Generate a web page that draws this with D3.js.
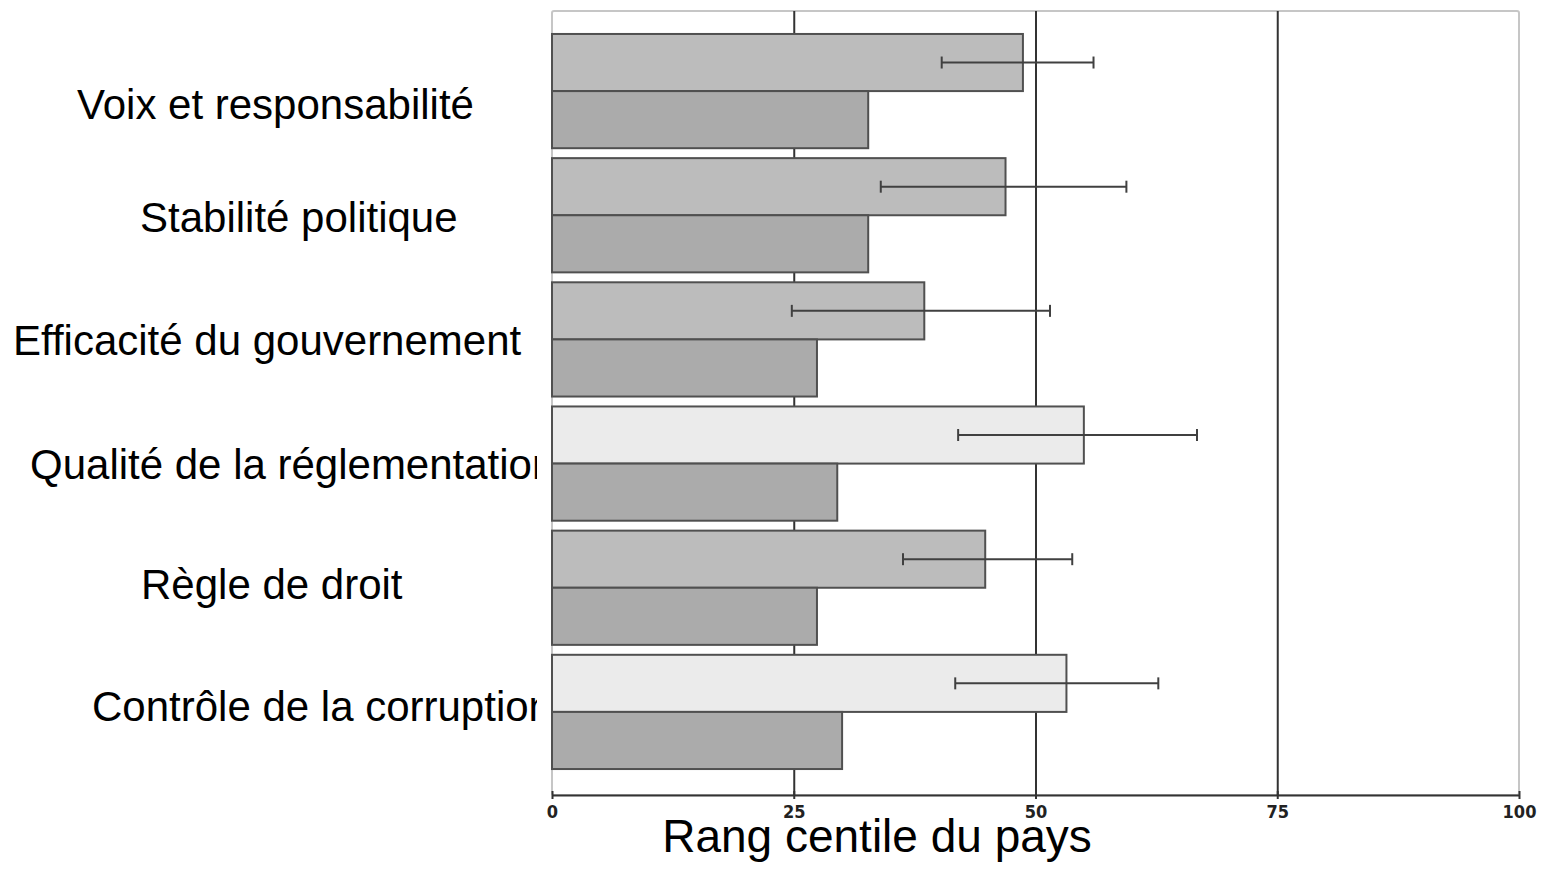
<!DOCTYPE html>
<html>
<head>
<meta charset="utf-8">
<script src="https://cdn.jsdelivr.net/npm/d3@7"></script>
<style>
  body { margin: 0; background: #fff; }
  svg { display: block; }
  .axis path, .axis line { stroke: #333; }
  .axis text { font-family: "Liberation Sans Narrow", "DejaVu Sans Condensed", sans-serif; font-weight: bold; font-size: 18px; fill: #222; }
  .grid line { stroke: #333; stroke-width: 2; }
  .grid path { display: none; }
  .label { font-family: "Liberation Sans", Arial, sans-serif; font-size: 42px; fill: #000; }
</style>
</head>
<body>
<div id="chart"></div>
<script>
const categories = [
  'Voix et responsabilité',
  'Stabilité politique',
  'Efficacité du gouvernement',
  'Qualité de la réglementation',
  'Règle de droit',
  'Contrôle de la corruption',
];
const seriesTop = [48.7, 46.9, 38.5, 55.0, 44.8, 53.2];
const seriesBottom = [32.7, 32.7, 27.4, 29.5, 27.4, 30.0];
const errLow = [40.3, 34.0, 24.8, 42.0, 36.3, 41.7];
const errHigh = [56.0, 59.4, 51.5, 66.7, 53.8, 62.7];
const highlighted = ['Qualité de la réglementation', 'Contrôle de la corruption'];
const xTicks = [0, 25, 50, 75, 100];
const axisTitle = 'Rang centile du pays';

// label placement in the original picture (left edge, baseline shift)
const labelLeft = [77, 140, 13, 30, 141, 92];
const labelShift = [13, 2, 0, 0, -4, -6];

const specs = {
    width: 1542,
    height: 871,
    plot: { left: 552, right: 1519, top: 11, bottom: 795 },
};

const svg = d3.select('#chart')
    .append('svg')
    .attr('width', specs.width)
    .attr('height', specs.height);

const x = d3.scaleLinear().domain([0, 100]).range([specs.plot.left, specs.plot.right]);
const y = d3.scaleBand().domain(categories).range([29, 774]).paddingInner(0.08).paddingOuter(0.04);
const ySub = d3.scaleBand().domain(['top', 'bottom']).range([0, y.bandwidth()]);

// frame
svg.append('rect')
    .attr('x', specs.plot.left)
    .attr('y', specs.plot.top)
    .attr('width', specs.plot.right - specs.plot.left)
    .attr('height', specs.plot.bottom - specs.plot.top)
    .attr('rx', 2)
    .attr('fill', 'none')
    .attr('stroke', '#c6c6c6')
    .attr('stroke-width', 2);

// grid lines
svg.append('g')
    .attr('class', 'grid')
    .attr('transform', `translate(0,${specs.plot.bottom})`)
    .call(d3.axisBottom(x)
        .tickValues([25, 50, 75])
        .tickSize(-(specs.plot.bottom - specs.plot.top))
        .tickFormat(''));

const rows = categories.map((c, i) => ({
    cat: c,
    top: seriesTop[i],
    bottom: seriesBottom[i],
    lo: errLow[i],
    hi: errHigh[i],
}));

const g = svg.selectAll('.row')
    .data(rows)
    .enter()
    .append('g')
    .attr('class', 'row')
    .attr('transform', d => `translate(0,${y(d.cat)})`);

g.append('rect')
    .attr('x', x(0))
    .attr('y', ySub('top'))
    .attr('width', d => x(d.top) - x(0))
    .attr('height', ySub.bandwidth())
    .attr('fill', d => (highlighted.includes(d.cat) ? '#ebebeb' : '#bcbcbc'))
    .attr('stroke', '#505050')
    .attr('stroke-width', 2);

g.append('rect')
    .attr('x', x(0))
    .attr('y', ySub('bottom'))
    .attr('width', d => x(d.bottom) - x(0))
    .attr('height', ySub.bandwidth())
    .attr('fill', '#ababab')
    .attr('stroke', '#505050')
    .attr('stroke-width', 2);

// error bars
const cy = ySub('top') + ySub.bandwidth() / 2;
g.append('line')
    .attr('x1', d => x(d.lo))
    .attr('x2', d => x(d.hi))
    .attr('y1', cy)
    .attr('y2', cy)
    .attr('stroke', '#404040')
    .attr('stroke-width', 2);
['lo', 'hi'].forEach(k => {
    g.append('line')
        .attr('x1', d => x(d[k]))
        .attr('x2', d => x(d[k]))
        .attr('y1', cy - 6)
        .attr('y2', cy + 6)
        .attr('stroke', '#404040')
        .attr('stroke-width', 2);
});

// axis
const axis = svg.append('g')
    .attr('class', 'axis')
    .attr('transform', `translate(0,${specs.plot.bottom})`)
    .call(d3.axisBottom(x)
        .tickValues(xTicks)
        .tickSize(4)
        .tickSizeOuter(0)
        .tickPadding(6));
axis.select('.domain').attr('stroke-width', 2);
axis.selectAll('.tick line').attr('stroke-width', 2).attr('y1', -4);

// category labels, clipped like the original
svg.append('clipPath')
    .attr('id', 'labelClip')
    .append('rect')
    .attr('x', 0)
    .attr('y', 0)
    .attr('width', 537)
    .attr('height', specs.height);

svg.append('g')
    .attr('clip-path', 'url(#labelClip)')
    .selectAll('text')
    .data(categories)
    .enter()
    .append('text')
    .attr('class', 'label')
    .attr('x', (d, i) => labelLeft[i])
    .attr('y', (d, i) => y(d) + y.bandwidth() / 2 + labelShift[i])
    .attr('dy', '0.36em')
    .text(d => d);

svg.append('text')
    .attr('class', 'label')
    .attr('x', 877)
    .attr('y', 852)
    .attr('text-anchor', 'middle')
    .style('font-size', '46px')
    .text(axisTitle);
</script>
</body>
</html>
